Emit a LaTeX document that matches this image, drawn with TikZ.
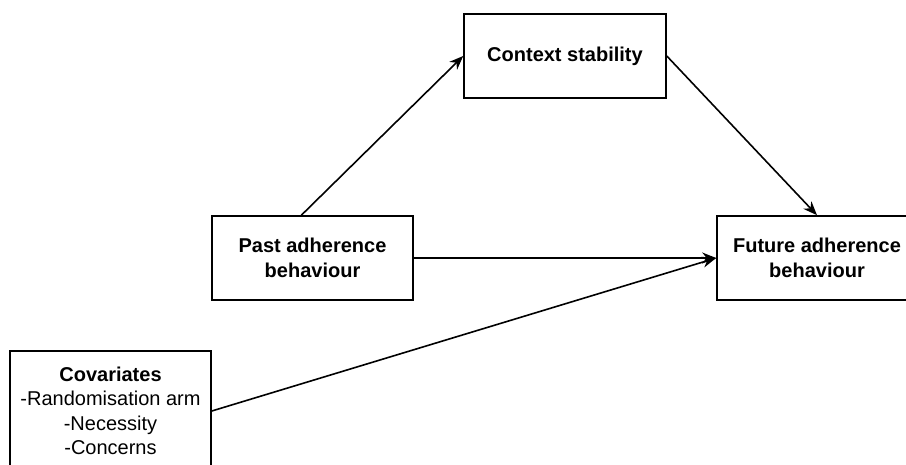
\documentclass[tikz,border=0pt]{standalone}
\usepackage{fontspec}
\setmainfont{Liberation Sans}
\usetikzlibrary{arrows.meta,calc}
\begin{document}
\begin{tikzpicture}[x=1pt,y=-1pt,
  box/.style={draw, line width=1.6pt, align=center, inner sep=0pt,
    font=\fontsize{20}{24.5}\selectfont},
  link/.style={line width=1.6pt, -{Stealth[length=14pt,width=11pt,inset=4.5pt]}}]
  \useasboundingbox (0,0) rectangle (906,464);
  \node[box, minimum width=202pt, minimum height=84pt] (ctx) at (565,56) {\bfseries Context stability};
  \node[box, minimum width=201pt, minimum height=84pt] (past) at (312.5,258) {\bfseries Past adherence\\\bfseries behaviour};
  \node[box, minimum width=200pt, minimum height=84pt] (fut) at (817,258) {\bfseries Future adherence\\\bfseries behaviour};
  \node[box, minimum width=201pt, minimum height=120pt] (cov) at (110.5,411) {\bfseries Covariates\\-Randomisation arm\\-Necessity\\-Concerns};
  \coordinate (pastTop) at ($(past.north west)!0.445!(past.north east)$);
  \draw[link] (pastTop) -- (ctx.west);
  \draw[link] (ctx.east) -- (fut.north);
  \draw[link] (past.east) -- (fut.west);
  \draw[link] (cov.east) -- (fut.west);
\end{tikzpicture}
\end{document}
